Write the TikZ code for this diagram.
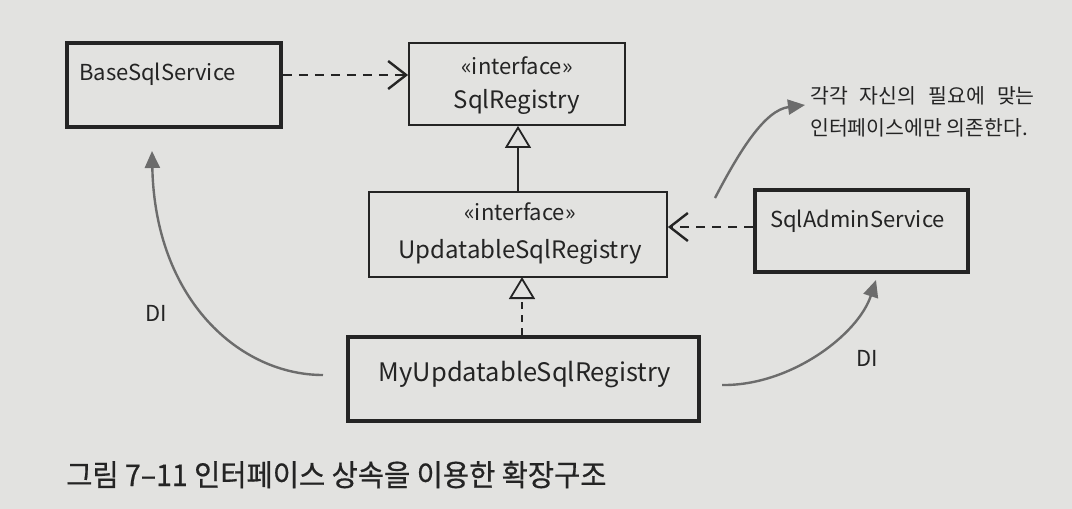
\documentclass[tikz,border=0pt]{standalone}
\usepackage{fontspec}
\setmainfont{Noto Sans CJK KR}
\usetikzlibrary{arrows.meta}
\definecolor{paper}{RGB}{226,226,224}
\definecolor{ink}{RGB}{36,36,36}
\definecolor{curveink}{RGB}{108,108,108}
\begin{document}
\begin{tikzpicture}[x=1pt,y=-1pt,
  box/.style={draw=ink, line width=1.8pt, inner sep=0pt},
  heavybox/.style={draw=ink, line width=3.6pt, inner sep=0pt},
  lbl/.style={text=ink, font=\fontsize{22}{26}\selectfont, inner sep=0pt},
  biglbl/.style={text=ink, font=\fontsize{24}{28}\selectfont, inner sep=0pt},
  note/.style={text=ink, font=\fontsize{20.5}{24}\selectfont, inner sep=0pt, anchor=base west},
  uses/.style={draw=ink, line width=2.6pt, dash pattern=on 9pt off 7pt,
    -{Straight Barb[length=18pt,width=28pt,line width=2.4pt]}},
  extends/.style={draw=ink, line width=1.8pt,
    -{Triangle[open,length=22pt,width=26pt,line width=1.8pt]}},
  implements/.style={draw=ink, line width=1.8pt, dash pattern=on 7pt off 6pt,
    -{Triangle[open,length=22pt,width=26pt,line width=1.8pt]}},
  inject/.style={draw=curveink, line width=2.4pt,
    -{Triangle[length=17pt,width=15pt]}}
]
\fill[paper] (0,0) rectangle (1072,509);
\useasboundingbox (0,0) rectangle (1072,509);

% class and interface boxes
\node[heavybox, minimum width=214pt, minimum height=84pt] (base) at (174,85) {};
\node[box, minimum width=216pt, minimum height=82pt] (reg) at (517,84) {};
\node[box, minimum width=298pt, minimum height=85pt] (upd) at (518,234.5) {};
\node[heavybox, minimum width=213pt, minimum height=82pt] (admin) at (861.5,231) {};
\node[heavybox, minimum width=351pt, minimum height=84pt] (my) at (523.5,379) {};

% box texts
\node[lbl, anchor=base west] (baseT) at (79,80) {BaseSqlService};
\node[lbl, anchor=base] (regS) at (517,74) {«interface»};
\node[biglbl, anchor=base] (regT) at (517,108) {SqlRegistry};
\node[lbl, anchor=base] (updS) at (520,220) {«interface»};
\node[biglbl, anchor=base] (updT) at (520,258) {UpdatableSqlRegistry};
\node[lbl, anchor=base west] (adminT) at (770,227) {SqlAdminService};
\node[text=ink, font=\fontsize{25.5}{30}\selectfont, inner sep=0pt, anchor=base]
  (myT) at (525,381) {MyUpdatableSqlRegistry};

% dependencies and generalisations
\draw[uses] (base.east |- 0,75) -- (reg.west |- 0,75);
\draw[uses] (admin.west |- 0,227) -- (upd.east |- 0,227);
\draw[extends] (upd.north) -- (upd.north |- reg.south);
\draw[implements] (my.north -| 522,0) -- (522,277);

% injection arrows
\coordinate (diLfrom) at (323,375);
\coordinate (diLto) at (152,151);
\coordinate (diRfrom) at (722,385);
\coordinate (diRto) at (876,280);
\coordinate (noteFrom) at (715,198);
\coordinate (noteTo) at (805,105);
\draw[inject] (diLfrom) .. controls (240,375) and (155,300) .. (diLto);
\draw[inject] (diRfrom) .. controls (790,386) and (858,335) .. (diRto);
\draw[inject] (noteFrom) .. controls (740,150) and (765,110) .. (noteTo);

\node[lbl, anchor=center] (diL) at (156,313) {DI};
\node[lbl, anchor=center] (diR) at (867,358) {DI};

% remark
\node[note] (note1) at (810,103) {\spaceskip=12pt 각각 자신의 필요에 맞는};
\node[note] (note2) at (810,135) {인터페이스에만 의존한다.};

% caption
\node[text=ink, inner sep=0pt, anchor=base west] (cap) at (66,486)
  {\scalebox{0.95}[1]{\fontsize{30}{34}\selectfont\addfontfeature{FakeBold=0.6}그림 7–11 인터페이스 상속을 이용한 확장구조}};
\end{tikzpicture}
\end{document}
